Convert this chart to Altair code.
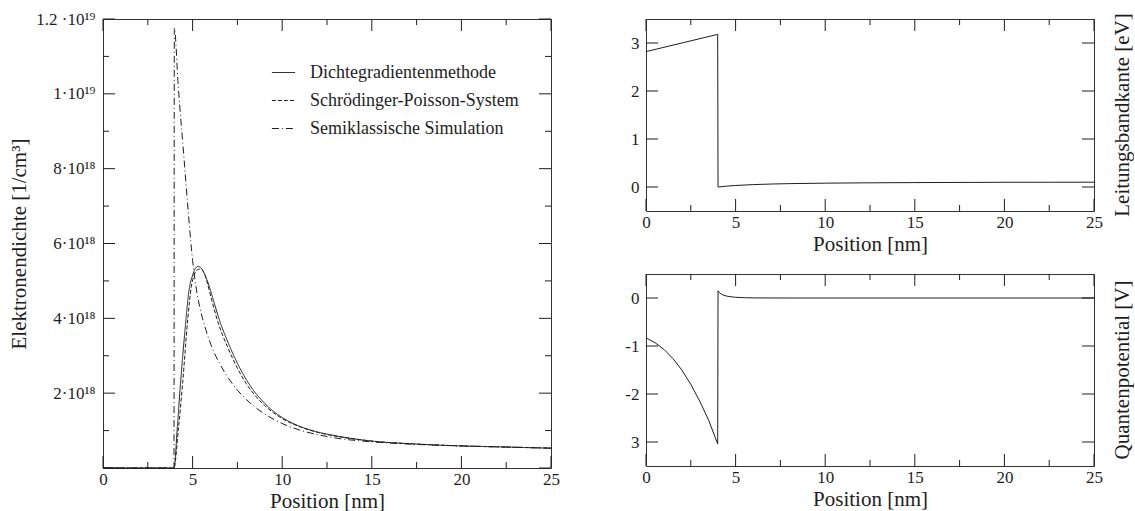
import altair as alt
import pandas as pd

FONT = "Liberation Serif"
INK = "#1e1e1e"

# ---- electron density [10^18 / cm^3] over position [nm] ----
series_names = ["Dichtegradientenmethode", "Schrödinger-Poisson-System", "Semiklassische Simulation"]

dg_x = [0, 3.96, 4.15, 4.30, 4.58, 4.80, 5.00, 5.15, 5.32, 5.50, 5.70, 5.92, 6.20, 6.50, 7.0, 7.5,
        8.0, 8.5, 9.0, 9.5, 10.0, 11.0, 12.0, 13.0, 15.0, 17.5, 20.0, 22.5, 25.0]
dg_y = [0, 0, 1.1, 2.1, 3.7, 4.75, 5.15, 5.33, 5.39, 5.33, 5.15, 4.87, 4.42, 3.95, 3.33, 2.80,
        2.36, 2.01, 1.74, 1.52, 1.35, 1.11, 0.96, 0.86, 0.72, 0.64, 0.59, 0.56, 0.53]

sp_x = [0, 3.96, 4.20, 4.45, 4.73, 4.93, 5.10, 5.25, 5.42, 5.60, 5.80, 6.05, 6.40, 7.0, 7.5,
        8.0, 8.5, 9.0, 9.5, 10.0, 11.0, 12.0, 13.0, 15.0, 17.5, 20.0, 22.5, 25.0]
sp_y = [0, 0, 1.0, 2.3, 3.98, 4.85, 5.17, 5.29, 5.32, 5.25, 4.98, 4.52, 3.92, 3.18, 2.67,
        2.25, 1.93, 1.68, 1.48, 1.32, 1.10, 0.95, 0.85, 0.72, 0.64, 0.59, 0.56, 0.53]

sc_x = [0, 3.96, 3.98, 4.2, 4.5, 4.8, 5.0, 5.18, 5.4, 5.73, 6.1, 6.5, 7.0, 7.5, 8.0, 8.5, 9.0,
        10.0, 11.0, 12.0, 13.0, 15.0, 17.5, 20.0, 22.5, 25.0]
sc_y = [0, 0, 11.76, 10.2, 8.4, 6.6, 5.55, 4.87, 4.3, 3.71, 3.2, 2.80, 2.40, 2.08, 1.83, 1.62, 1.45,
        1.19, 1.01, 0.89, 0.80, 0.70, 0.63, 0.59, 0.56, 0.53]

density_ticks = [2, 4, 6, 8, 10, 12]
density_labels = ["2·10¹⁸", "4·10¹⁸", "6·10¹⁸", "8·10¹⁸", "1·10¹⁹", "1.2 ·10¹⁹"]

# ---- conduction band edge [eV] ----
cb_x = [0, 4.0, 4.02, 4.5, 5, 6, 7, 8, 10, 12, 15, 20, 25]
cb_y = [2.82, 3.18, 0.0, 0.018, 0.032, 0.050, 0.062, 0.070, 0.080, 0.086, 0.092, 0.098, 0.10]

# ---- quantum potential [V] ----
qp_x = [0, 0.5, 1, 1.5, 2, 2.5, 3, 3.5, 4.0, 4.02, 4.1, 4.25, 4.5, 4.75, 5.0, 5.5, 6.0, 8, 25]
qp_y = [-0.83, -0.93, -1.07, -1.26, -1.50, -1.80, -2.15, -2.55, -3.04, 0.15, 0.11, 0.07, 0.04,
        0.025, 0.015, 0.006, 0.002, 0, 0]

pos_ticks = [0, 5, 10, 15, 20, 25]
pos_minor = [2.5, 7.5, 12.5, 17.5, 22.5]

W = 448
H_LEFT = 449
H_RIGHT = 192
MAJOR = 12
MINOR = 6


def label_expr(values, labels):
    expr = "''"
    for v, lab in reversed(list(zip(values, labels))):
        expr = f"datum.value == {v} ? '{lab}' : {expr}"
    return expr


def tick_layers(xs, ys, xaxis, yaxis, H, xmaj, xmin, ymaj, ymin):
    """Inward-pointing ticks on all four sides of the frame."""
    layers = []
    for vals, L in ((xmaj, MAJOR), (xmin, MINOR)):
        if vals:
            base = alt.Chart(pd.DataFrame({"v": vals})).mark_rule(color=INK, strokeWidth=1)
            enc = alt.X("v:Q", scale=xs, axis=xaxis)
            layers.append(base.encode(x=enc, y=alt.value(H), y2=alt.value(H - L)))
            layers.append(base.encode(x=enc, y=alt.value(0), y2=alt.value(L)))
    for vals, L in ((ymaj, MAJOR), (ymin, MINOR)):
        if vals:
            base = alt.Chart(pd.DataFrame({"v": vals})).mark_rule(color=INK, strokeWidth=1)
            enc = alt.Y("v:Q", scale=ys, axis=yaxis)
            layers.append(base.encode(y=enc, x=alt.value(0), x2=alt.value(L)))
            layers.append(base.encode(y=enc, x=alt.value(W - L), x2=alt.value(W)))
    return layers


def x_axis(title="Position [nm]"):
    return alt.Axis(values=pos_ticks, format="d", tickSize=0, domain=False, grid=False,
                    labelFlush=False, labelOverlap=False, labelPadding=3,
                    title=title, titlePadding=3)


xs = alt.Scale(domain=[0, 25], nice=False, zero=False)

# ---------------- left panel: electron density ----------------
ys_n = alt.Scale(domain=[0, 12], nice=False, zero=False)
ax_x_left = x_axis()
ax_n = alt.Axis(values=density_ticks, labelExpr=label_expr(density_ticks, density_labels),
                tickSize=0, domain=False, grid=False, labelFlush=False, labelOverlap=False,
                labelPadding=8, title="Elektronendichte [1/cm³]", titlePadding=6)

dens = pd.DataFrame({
    "x": dg_x + sp_x + sc_x,
    "n": dg_y + sp_y + sc_y,
    "Methode": [series_names[0]] * len(dg_x) + [series_names[1]] * len(sp_x) + [series_names[2]] * len(sc_x),
})

dens_lines = alt.Chart(dens).mark_line(color=INK, strokeWidth=1, interpolate="monotone").encode(
    x=alt.X("x:Q", scale=xs, axis=ax_x_left),
    y=alt.Y("n:Q", scale=ys_n, axis=ax_n),
    strokeDash=alt.StrokeDash(
        "Methode:N",
        scale=alt.Scale(domain=series_names, range=[[1, 0], [4, 2], [7, 3, 1, 3]]),
        legend=alt.Legend(title=None, orient="none", legendX=168, legendY=41,
                          labelFont=FONT, labelFontSize=18, labelColor=INK, labelLimit=400,
                          symbolType="stroke", symbolSize=540, symbolStrokeWidth=1,
                          symbolStrokeColor=INK, rowPadding=6, labelOffset=14),
    ),
    detail="Methode:N",
)

left = alt.layer(
    dens_lines,
    *tick_layers(xs, ys_n, ax_x_left, ax_n, H_LEFT, pos_ticks, pos_minor,
                 [0, 2, 4, 6, 8, 10, 12], [1, 3, 5, 7, 9, 11]),
).properties(width=W, height=H_LEFT)


# ---------------- right panels ----------------
def side_title(text, H):
    return alt.Chart(pd.DataFrame({"t": [text]})).mark_text(
        angle=270, font=FONT, fontSize=21, color=INK
    ).encode(x=alt.value(W + 29), y=alt.value(H / 2), text="t:N")


ys_cb = alt.Scale(domain=[-0.5, 3.5], nice=False, zero=False)
ax_x_top = x_axis()
ax_cb = alt.Axis(values=[0, 1, 2, 3], format="d", tickSize=0, domain=False, grid=False,
                 labelFlush=False, labelOverlap=False, labelPadding=7, title=None)
cb = pd.DataFrame({"x": cb_x, "e": cb_y})
cb_line = alt.Chart(cb).mark_line(color=INK, strokeWidth=1).encode(
    x=alt.X("x:Q", scale=xs, axis=ax_x_top),
    y=alt.Y("e:Q", scale=ys_cb, axis=ax_cb),
)
top = alt.layer(
    cb_line,
    *tick_layers(xs, ys_cb, ax_x_top, ax_cb, H_RIGHT, pos_ticks, pos_minor, [0, 1, 2, 3], []),
    side_title("Leitungsbandkante [eV]", H_RIGHT),
).properties(width=W, height=H_RIGHT)

qp_ticks = [-3, -2, -1, 0]
qp_labels = ["3", "-2", "-1", "0"]
ys_qp = alt.Scale(domain=[-3.5, 0.5], nice=False, zero=False)
ax_x_bot = x_axis()
ax_qp = alt.Axis(values=qp_ticks, labelExpr=label_expr(qp_ticks, qp_labels),
                 tickSize=0, domain=False, grid=False, labelFlush=False,
                 labelOverlap=False, labelPadding=7, title=None)
qp = pd.DataFrame({"x": qp_x, "q": qp_y})
qp_line = alt.Chart(qp).mark_line(color=INK, strokeWidth=1).encode(
    x=alt.X("x:Q", scale=xs, axis=ax_x_bot),
    y=alt.Y("q:Q", scale=ys_qp, axis=ax_qp),
)
bottom = alt.layer(
    qp_line,
    *tick_layers(xs, ys_qp, ax_x_bot, ax_qp, H_RIGHT, pos_ticks, pos_minor, qp_ticks, []),
    side_title("Quantenpotential [V]", H_RIGHT),
).properties(width=W, height=H_RIGHT)

right = alt.vconcat(top, bottom, spacing=18)

chart = alt.hconcat(left, right, spacing=64).properties(
    padding={"left": 8, "top": 9, "right": 0, "bottom": 0}
).configure_view(
    stroke="#333333", strokeWidth=1
).configure_axis(
    labelFont=FONT, titleFont=FONT, labelColor=INK, titleColor=INK,
    labelFontSize=17, titleFontSize=21, titleFontWeight="normal",
).configure_legend(
    labelFont=FONT
).configure_text(font=FONT)

chart.save("out.html", embed_options={"renderer": "svg", "actions": False})
